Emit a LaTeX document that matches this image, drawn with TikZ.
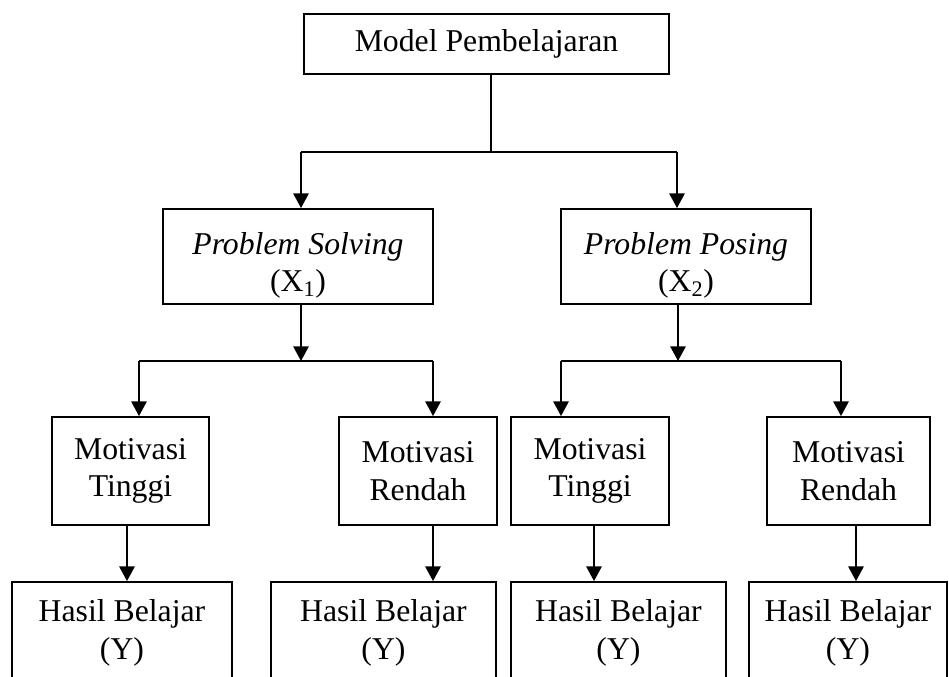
\documentclass[tikz,border=0pt]{standalone}
\usepackage{fontspec}
\setmainfont{Liberation Serif}
\usetikzlibrary{arrows.meta,positioning}
\newcommand{\px}{0.75pt}
\newcommand{\lowstrut}{\rule{0pt}{30pt}}

\begin{document}
\begin{tikzpicture}[x=\px, y=-\px, >={Triangle[width=11.5pt,length=11pt]},
		font=\fontsize{23.8}{28}\selectfont,
		box/.style={draw, rectangle, line width=1.4pt, align=center, inner sep=0pt},
		joinLine/.style={line width=1.4pt},
		flowLine/.style={line width=1.4pt, ->},
		]
		
		\useasboundingbox (0,0) rectangle (949,676);
		\clip (0,0) rectangle (949,676);
		
		\node[box, minimum width=365*\px, minimum height=60*\px] (model) at (486.5,44) {Model Pembelajaran};
		
		\node[box, minimum width=270*\px, minimum height=95*\px] (ps) at (298,256.5) {\lowstrut\textit{Problem Solving}\\(X\textsubscript{1})};
		\node[box, minimum width=250*\px, minimum height=95*\px] (pp) at (686,256.5) {\lowstrut\textit{Problem Posing}\\(X\textsubscript{2})};
		
		\node[box, minimum width=157*\px, minimum height=108*\px] (mt1) at (130.5,471) {Motivasi\\Tinggi};
		\node[box, minimum width=158*\px, minimum height=108*\px] (mr1) at (418,471) {Motivasi\\Rendah};
		\node[box, minimum width=158*\px, minimum height=108*\px] (mt2) at (590,471) {Motivasi\\Tinggi};
		\node[box, minimum width=163*\px, minimum height=108*\px] (mr2) at (848.5,471) {Motivasi\\Rendah};
		
		\node[box, minimum width=220*\px, minimum height=102*\px] (hb1) at (122,633) {Hasil Belajar\\(Y)};
		\node[box, minimum width=225*\px, minimum height=102*\px] (hb2) at (383.5,633) {Hasil Belajar\\(Y)};
		\node[box, minimum width=215*\px, minimum height=102*\px] (hb3) at (618.5,633) {Hasil Belajar\\(Y)};
		\node[box, minimum width=198*\px, minimum height=102*\px] (hb4) at (848,633) {Hasil Belajar\\(Y)};
		
		% junctions
		\coordinate (topJoin) at (491,152);
		\coordinate (topLeft) at (301,152);
		\coordinate (topRight) at (677,152);
		
		\coordinate (psMid) at (301,361);
		\coordinate (psLeft) at (139,361);
		\coordinate (psRight) at (433,361);
		
		\coordinate (ppMid) at (678,361);
		\coordinate (ppLeft) at (561,361);
		\coordinate (ppRight) at (841,361);
		
		\coordinate (hbArrow1) at (127,525);
		\coordinate (hbArrow2) at (433,525);
		\coordinate (hbArrow3) at (594,525);
		\coordinate (hbArrow4) at (856,525);
		
		\draw [joinLine] (model.south -| topJoin) to (topJoin);
		\draw [joinLine] (topLeft) to (topRight);
		\draw [flowLine] (topLeft) to (topLeft |- ps.north);
		\draw [flowLine] (topRight) to (topRight |- pp.north);
		
		\draw [flowLine] (ps.south -| psMid) to (psMid);
		\draw [joinLine] (psLeft) to (psRight);
		\draw [flowLine] (psLeft) to (psLeft |- mt1.north);
		\draw [flowLine] (psRight) to (psRight |- mr1.north);
		
		\draw [flowLine] (pp.south -| ppMid) to (ppMid);
		\draw [joinLine] (ppLeft) to (ppRight);
		\draw [flowLine] (ppLeft) to (ppLeft |- mt2.north);
		\draw [flowLine] (ppRight) to (ppRight |- mr2.north);
		
		\draw [flowLine] (mt1.south -| hbArrow1) to (hb1.north -| hbArrow1);
		\draw [flowLine] (mr1.south -| hbArrow2) to (hb2.north -| hbArrow2);
		\draw [flowLine] (mt2.south -| hbArrow3) to (hb3.north -| hbArrow3);
		\draw [flowLine] (mr2.south -| hbArrow4) to (hb4.north -| hbArrow4);
		
	\end{tikzpicture}
\end{document}
